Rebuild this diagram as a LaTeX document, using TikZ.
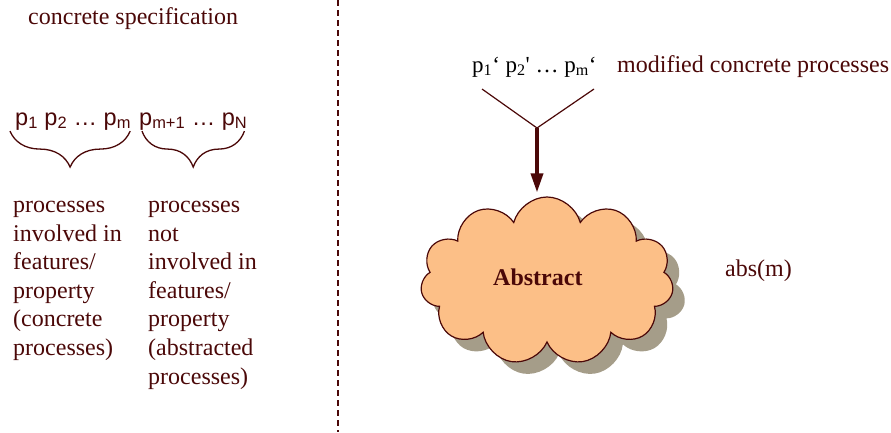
\documentclass[tikz,border=0pt]{standalone}
\usepackage{fontspec}
\setmainfont{Liberation Serif}
\setsansfont{Liberation Sans}
\newfontfamily\primefont{Liberation Serif}
\usetikzlibrary{shapes.symbols, shadows, decorations.pathreplacing, arrows.meta, positioning}
\definecolor{inkred}{RGB}{75,8,8}
\definecolor{cloudfill}{RGB}{252,191,135}
\definecolor{cloudshade}{RGB}{165,157,137}

\begin{document}
\begin{tikzpicture}[
    x=1pt, y=-1pt,
    txt/.style={inner sep=0pt, text=inkred, font=\fontsize{24}{28.6}\selectfont},
    proc/.style={inner sep=0pt, text=inkred, font=\sffamily\fontsize{23.5}{28}\selectfont},
    col/.style={txt, align=left, anchor=north west},
    brace/.style={draw=inkred, line width=1.3pt, decorate, decoration={brace, mirror, amplitude=36pt}},
    fork/.style={draw=inkred, line width=1.2pt},
    arrow/.style={draw=inkred, line width=3.5pt, -{Triangle[width=12pt, length=19pt]}},
    divider/.style={draw=inkred, line width=1.8pt, dash pattern=on 6pt off 4pt},
    cloudbox/.style={cloud, cloud puffs=11, draw=inkred, line width=1.2pt, fill=cloudfill, minimum width=253pt, minimum height=168pt, inner sep=0pt,
        drop shadow={shadow xshift=12pt, shadow yshift=-12pt, fill=cloudshade, opacity=1}}
]

\useasboundingbox (0,0) rectangle (891,432);

% Left: concrete specification
\node[txt, anchor=base west] (spec) at (28,24) {concrete specification};
\node[proc, anchor=base west] (pconc) at (15,125) {p\textsubscript{1} p\textsubscript{2} \ldots{} p\textsubscript{m}};
\node[proc, anchor=base west] (pabs) at (139,125) {p\textsubscript{m+1} \ldots{} p\textsubscript{N}};

\draw[brace] ([xshift=-5pt, yshift=-1pt]pconc.south west) -- ([xshift=-1pt, yshift=-1pt]pconc.south east);
\draw[brace] ([xshift=3pt, yshift=-1pt]pabs.south west) -- ([xshift=-3pt, yshift=-1pt]pabs.south east);

\node[col] (concdesc) at (13,201) {processes\\involved in\\features/\\property\\(concrete\\processes)};
\node[col] (absdesc) at (148,201) {processes\\not\\involved in\\features/\\property\\(abstracted\\processes)};

% Divider
\draw[divider] (338,0) -- (338,432);

% Right: abstraction
\node[txt, text=black, anchor=base west, font=\primefont\fontsize{23}{28}\selectfont] (pmod) at (472,72) {p\textsubscript{1}‘ p\textsubscript{2}' \ldots{} p\textsubscript{m}‘};
\node[txt, anchor=base west] (modlbl) at (617,72) {modified concrete processes};

\coordinate (vleft) at (482,89);
\coordinate (vright) at (594,89);
\coordinate (vjoin) at (537,128);
\draw[fork] (vleft) -- (vjoin) -- (vright);

\node[cloudbox] (abscloud) at (547,281) {};
\node[txt, anchor=base west, font=\bfseries\fontsize{24}{28}\selectfont] (abslbl) at (493,285) {Abstract};
\draw[arrow, shorten >=4pt] (vjoin) -- (vjoin |- abscloud.north);

\node[txt, anchor=base west] (absm) at (725,276) {abs(m)};

\end{tikzpicture}
\end{document}
